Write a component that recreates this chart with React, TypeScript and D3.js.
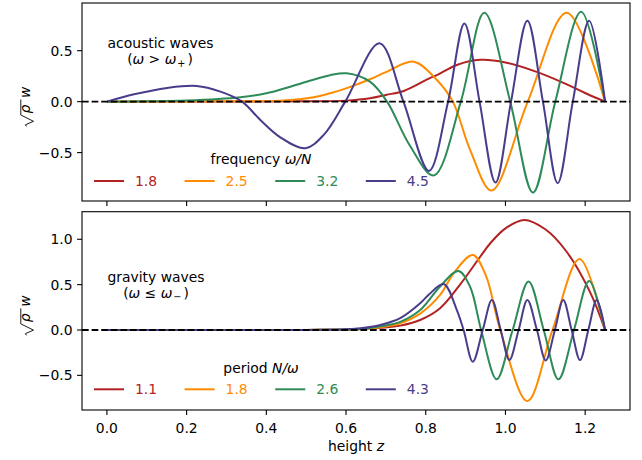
import React from 'react';
import * as d3 from 'd3';

// acoustic waves, frequency ω/N  ([z, sqrt(rho) w])
const acoustic18 = [
  [0, 0], [0.3, 0.001], [0.5, 0.003], [0.6, 0.01], [0.66, 0.033], [0.7, 0.066], [0.745, 0.105],
  [0.81, 0.23], [0.828, 0.26], [0.878, 0.36], [0.937, 0.41], [1.0, 0.385], [1.08, 0.29],
  [1.154, 0.17], [1.2, 0.085], [1.25, 0],
];
const acoustic25 = [
  [0, 0], [0.3, 0.003], [0.435, 0.01], [0.519, 0.043], [0.56, 0.082], [0.6, 0.13], [0.66, 0.22],
  [0.7, 0.29], [0.77, 0.392], [0.828, 0.213], [0.868, 0], [0.911, -0.47], [0.965, -0.872],
  [1.056, 0], [1.154, 0.873], [1.25, 0],
];
const acoustic32 = [
  [0, 0], [0.1, 0.003], [0.2, 0.01], [0.335, 0.043], [0.4, 0.082], [0.46, 0.147], [0.56, 0.26],
  [0.602, 0.278], [0.66, 0.196], [0.703, 0], [0.76, -0.43], [0.82, -0.725], [0.888, 0],
  [0.947, 0.873], [1.012, 0], [1.069, -0.892], [1.125, 0], [1.19, 0.882], [1.25, 0],
];
const acoustic45 = [
  [0, 0], [0.068, 0.072], [0.151, 0.135], [0.225, 0.154], [0.285, 0.098], [0.339, 0],
  [0.385, -0.18], [0.435, -0.35], [0.498, -0.457], [0.544, -0.326], [0.598, 0], [0.684, 0.572],
  [0.744, 0], [0.808, -0.68], [0.856, 0], [0.897, 0.768], [0.935, 0], [0.975, -0.794],
  [1.014, 0], [1.055, 0.794], [1.094, 0], [1.131, -0.8], [1.169, 0], [1.21, 0.794], [1.25, 0],
];

// gravity waves, period N/ω
const gravity11 = [
  [0, 0], [0.5, 0.001], [0.6, 0.005], [0.686, 0.025], [0.736, 0.048], [0.786, 0.11],
  [0.836, 0.24], [0.886, 0.5], [0.937, 0.81], [0.962, 0.956], [1.0, 1.12], [1.047, 1.213],
  [1.1, 1.11], [1.154, 0.86], [1.212, 0.42], [1.25, 0],
];
const gravity18 = [
  [0, 0], [0.5, 0.001], [0.636, 0.008], [0.686, 0.03], [0.736, 0.074], [0.786, 0.18],
  [0.836, 0.386], [0.87, 0.625], [0.918, 0.827], [0.95, 0.61], [0.987, 0], [1.055, -0.783],
  [1.118, 0], [1.186, 0.783], [1.25, 0],
];
const gravity26 = [
  [0, 0], [0.5, 0.001], [0.636, 0.01], [0.686, 0.04], [0.736, 0.09], [0.786, 0.22],
  [0.836, 0.48], [0.882, 0.65], [0.911, 0.48], [0.939, 0], [0.978, -0.544], [1.018, 0],
  [1.058, 0.535], [1.096, 0], [1.133, -0.544], [1.172, 0], [1.21, 0.54], [1.25, 0],
];
const gravity43 = [
  [0, 0], [0.5, 0.001], [0.6, 0.008], [0.636, 0.018], [0.686, 0.055], [0.736, 0.13],
  [0.786, 0.294], [0.81, 0.4], [0.845, 0.507], [0.878, 0.22], [0.895, 0], [0.918, -0.349],
  [0.943, 0], [0.966, 0.33], [0.988, 0], [1.01, -0.33], [1.033, 0], [1.055, 0.33],
  [1.079, 0], [1.101, -0.335], [1.124, 0], [1.145, 0.33], [1.166, 0], [1.187, -0.33],
  [1.208, 0], [1.229, 0.33], [1.25, 0],
];

const freqLabels = ['1.8', '2.5', '3.2', '4.5'];
const periodLabels = ['1.1', '1.8', '2.6', '4.3'];
const colors = ['#b22222', '#ff8c00', '#2e8b57', '#483d8b'];

const xTicks = [0, 0.2, 0.4, 0.6, 0.8, 1.0, 1.2];
const topYTicks = [-0.5, 0, 0.5];
const bottomYTicks = [-0.5, 0, 0.5, 1.0];

const FONT = 'DejaVu Sans, sans-serif';
const FS = 13.9;
const left = 82, right = 630;

const x = d3.scaleLinear().domain([-0.0625, 1.3125]).range([left, right]);
const fmt = (v: number) => d3.format('.1f')(v).replace('-', '\u2212');

const Panel = ({ series, labels, yDomain, top, bottom, yTicks, xLabels, legendY, legendTitle }) => {
  const y = d3.scaleLinear().domain(yDomain).range([bottom, top]);
  const line = d3.line<number[]>()
    .x(d => x(d[0]))
    .y(d => y(d[1]))
    .curve(d3.curveCatmullRom.alpha(0.5));

  return (
    <g>
      <defs>
        <clipPath id={'clip' + top}>
          <rect x={left} y={top} width={right - left} height={bottom - top} />
        </clipPath>
      </defs>
      <g clipPath={`url(#clip${top})`}>
        {series.map((s, i) => (
          <path key={i} d={line(s)} fill="none" stroke={colors[i]} strokeWidth={2} />
        ))}
        <line x1={left} x2={right} y1={y(0)} y2={y(0)} stroke="#000" strokeWidth={1.8}
          strokeDasharray="6.7,2.9" />
      </g>
      <rect x={left} y={top} width={right - left} height={bottom - top} fill="none" stroke="#000" strokeWidth={1.1} />
      {xTicks.map(t => (
        <g key={t}>
          <line x1={x(t)} x2={x(t)} y1={bottom} y2={bottom + 4.9} stroke="#000" strokeWidth={1.1} />
          {xLabels && (
            <text x={x(t)} y={bottom + 22.5} textAnchor="middle" fontFamily={FONT} fontSize={FS}>{fmt(t)}</text>
          )}
        </g>
      ))}
      {yTicks.map(t => (
        <g key={t}>
          <line x1={left - 4.9} x2={left} y1={y(t)} y2={y(t)} stroke="#000" strokeWidth={1.1} />
          <text x={left - 9.5} y={y(t) + 5} textAnchor="end" fontFamily={FONT} fontSize={FS}>{fmt(t)}</text>
        </g>
      ))}
      {legendTitle}
      {labels.map((lab, i) => (
        <g key={lab}>
          <line x1={94 + i * 90.6} x2={124 + i * 90.6} y1={legendY} y2={legendY} stroke={colors[i]} strokeWidth={2} />
          <text x={135 + i * 90.6} y={legendY + 5} fontFamily={FONT} fontSize={FS} fill={colors[i]}>{lab}</text>
        </g>
      ))}
      <g transform={`translate(26,${(top + bottom) / 2 + 3}) rotate(-90)`}>
        <path d="M-21.5,0.5 L-19.8,-0.6 L-16.3,7.5 L-10,-5.2 L5.5,-5.2" fill="none" stroke="#000" strokeWidth={0.9} />
        <text x={-8.5} y={4} fontFamily={FONT} fontSize={FS} fontStyle="italic">ρ</text>
        <text x={7} y={4} fontFamily={FONT} fontSize={FS} fontStyle="italic">w</text>
      </g>
    </g>
  );
};

export default function App() {
  return (
    <svg width={642} height={460} style={{ position: 'absolute', left: 0, top: 0, background: '#fff' }}>
      <Panel
        series={[acoustic18, acoustic25, acoustic32, acoustic45]}
        labels={freqLabels}
        yDomain={[-0.975, 0.968]}
        top={3} bottom={201}
        yTicks={topYTicks}
        xLabels={false}
        legendY={181}
        legendTitle={
          <text x={261} y={164} textAnchor="middle" fontFamily={FONT} fontSize={FS}>
            frequency <tspan fontStyle="italic">ω/N</tspan>
          </text>
        }
      />
      <text x={160.5} y={48} textAnchor="middle" fontFamily={FONT} fontSize={FS}>acoustic waves</text>
      <text x={160} y={64} textAnchor="middle" fontFamily={FONT} fontSize={FS}>
        (<tspan fontStyle="italic">ω</tspan> &gt; <tspan fontStyle="italic">ω</tspan>
        <tspan fontSize={9.7} dy={2.5} dx={1}>+</tspan><tspan dy={-2.5} dx={2}>)</tspan>
      </text>

      <Panel
        series={[gravity11, gravity18, gravity26, gravity43]}
        labels={periodLabels}
        yDomain={[-0.882, 1.304]}
        top={211.7} bottom={410}
        yTicks={bottomYTicks}
        xLabels={true}
        legendY={389.3}
        legendTitle={
          <text x={261} y={372.5} textAnchor="middle" fontFamily={FONT} fontSize={FS}>
            period <tspan fontStyle="italic">N/ω</tspan>
          </text>
        }
      />
      <text x={156} y={281.5} textAnchor="middle" fontFamily={FONT} fontSize={FS}>gravity waves</text>
      <text x={156} y={297.5} textAnchor="middle" fontFamily={FONT} fontSize={FS}>
        (<tspan fontStyle="italic">ω</tspan> ≤ <tspan fontStyle="italic">ω</tspan>
        <tspan fontSize={9.7} dy={2.5} dx={1}>−</tspan><tspan dy={-2.5} dx={2}>)</tspan>
      </text>
      <text x={356} y={450.5} textAnchor="middle" fontFamily={FONT} fontSize={FS}>
        height <tspan fontStyle="italic">z</tspan>
      </text>
    </svg>
  );
}
